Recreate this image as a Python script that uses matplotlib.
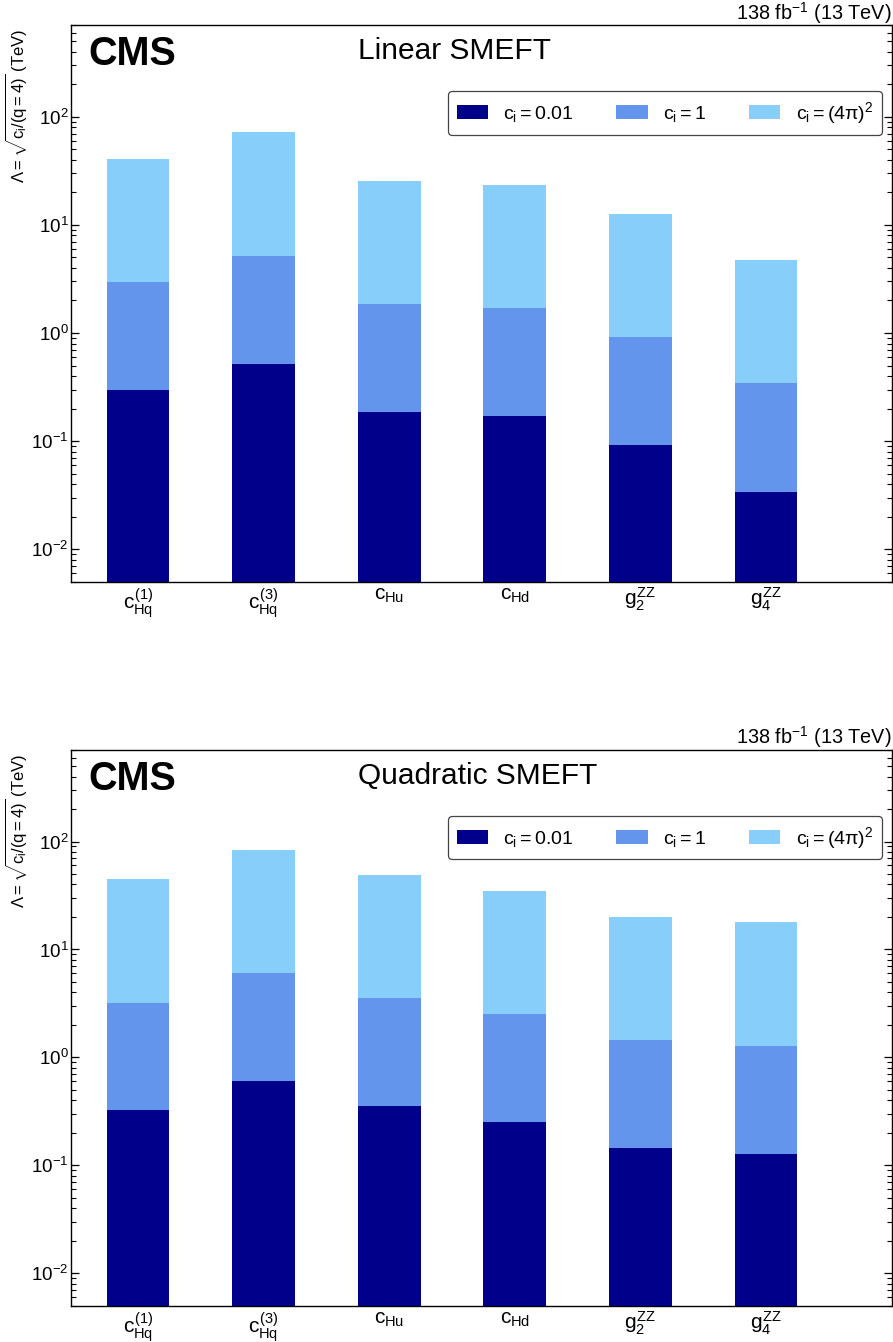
import numpy as np
import matplotlib
matplotlib.use("Agg")
import matplotlib.pyplot as plt

plt.rcParams['font.family'] = ['Liberation Sans', 'DejaVu Sans']
plt.rcParams['mathtext.fontset'] = 'custom'
plt.rcParams['mathtext.rm'] = 'Liberation Sans'
plt.rcParams['mathtext.it'] = 'Liberation Sans'
plt.rcParams['mathtext.sf'] = 'Liberation Sans'
plt.rcParams['mathtext.bf'] = 'Liberation Sans:bold'

# operators on the x axis
labels = [r'$c_{Hq}^{(1)}$', r'$c_{Hq}^{(3)}$', r'$c_{Hu}$', r'$c_{Hd}$',
          r'$g_{2}^{ZZ}$', r'$g_{4}^{ZZ}$']

# Lambda (TeV) for c_i = 0.01, 1, (4pi)^2
lin_001 = [0.30, 0.52, 0.186, 0.169, 0.092, 0.034]
lin_1 = [2.97, 5.16, 1.87, 1.69, 0.92, 0.344]
lin_4pi = [41.1, 72.1, 25.5, 23.5, 12.6, 4.74]

quad_001 = [0.323, 0.60, 0.355, 0.254, 0.145, 0.128]
quad_1 = [3.21, 6.0, 3.55, 2.54, 1.45, 1.28]
quad_4pi = [44.5, 83.2, 49.2, 34.9, 20.1, 17.9]

leg_labels = [r'$c_{i} = 0.01$', r'$c_{i} = 1$', r'$c_{i} = (4\pi)^{2}$']
colors = ['#00008B', '#6495ED', '#87CEFA']

fig = plt.figure(figsize=(8.93, 13.42), dpi=100)
ax_top = fig.add_axes([0.080, 0.5665, 0.9185, 0.4145])
ax_bot = fig.add_axes([0.080, 0.0270, 0.9185, 0.4139])

x = np.arange(len(labels))


def draw(ax, v001, v1, v4pi, title):
    ax.set_yscale('log')
    # tallest first so the smaller ones sit in front
    ax.bar(x, v4pi, width=0.5, color=colors[2], linewidth=0, label=leg_labels[2])
    ax.bar(x, v1, width=0.5, color=colors[1], linewidth=0, label=leg_labels[1])
    ax.bar(x, v001, width=0.5, color=colors[0], linewidth=0, label=leg_labels[0])
    ax.set_ylim(0.005, 700)
    ax.set_xlim(-0.53, 6.0)
    ax.set_xticks(x)
    ax.set_xticklabels(labels, fontsize=15)
    ax.tick_params(axis='x', length=0, pad=3)
    ax.tick_params(axis='y', which='both', direction='in', left=True, right=True,
                   labelsize=13.5, pad=2)
    ax.tick_params(axis='y', which='major', length=6, width=0.9)
    ax.tick_params(axis='y', which='minor', length=3.5, width=0.8)
    for s in ax.spines.values():
        s.set_linewidth(1.0)

    ax.text(0.0205, 0.929, 'CMS', transform=ax.transAxes, fontsize=28.5,
            fontweight='bold', va='baseline', ha='left')
    ax.text(0.349, 0.939, title, transform=ax.transAxes, fontsize=21.5,
            va='baseline', ha='left')
    ax.text(0.9995, 1.011, r'138 fb$^{-1}$ (13 TeV)', transform=ax.transAxes,
            fontsize=14.3, va='baseline', ha='right')

    h, l = ax.get_legend_handles_labels()
    leg = ax.legend(h[::-1], l[::-1], ncol=3, loc='upper right',
                    bbox_to_anchor=(0.988, 0.882), borderaxespad=0,
                    fontsize=14, handlelength=1.6, handleheight=0.75,
                    handletextpad=0.8, columnspacing=2.2, borderpad=0.45,
                    fancybox=True, framealpha=1)
    leg.get_frame().set_edgecolor('#444444')
    leg.get_frame().set_linewidth(0.9)


draw(ax_top, lin_001, lin_1, lin_4pi, 'Linear SMEFT')
draw(ax_bot, quad_001, quad_1, quad_4pi, 'Quadratic SMEFT')

ylab = r'$\Lambda = \sqrt{c_{i}/(q=4)}$ (TeV)'
fig.text(16.7 / 893, 1 - 28 / 1342, ylab, rotation=90, ha='center', va='top', fontsize=12)
fig.text(16.7 / 893, 1 - 753 / 1342, ylab, rotation=90, ha='center', va='top', fontsize=12)

fig.savefig('out.png', dpi=100)
